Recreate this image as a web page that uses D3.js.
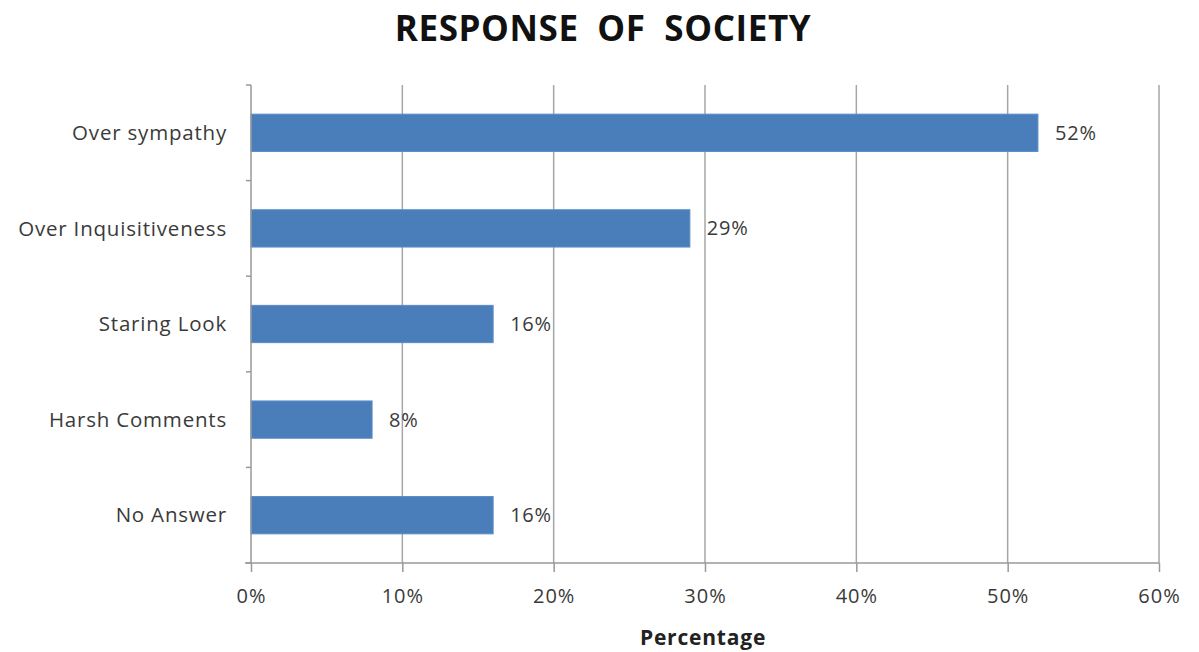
<!DOCTYPE html>
<html>
<head>
<meta charset="utf-8">
<script src="https://cdn.jsdelivr.net/npm/d3@7"></script>
<style>
  body { margin: 0; background: #fff; }
  text { font-family: "Open Sans", "Noto Sans", sans-serif; fill: #3a3a3a; }
</style>
</head>
<body>
<div id="chart"></div>
<script>
var categories = ["Over sympathy", "Over Inquisitiveness", "Staring Look", "Harsh Comments", "No Answer"];
var values = [52, 29, 16, 8, 16];
var xTicks = [0, 10, 20, 30, 40, 50, 60];

var margin = {top: 85, right: 40, bottom: 89, left: 251},
    width = 1199 - margin.left - margin.right,
    height = 652 - margin.top - margin.bottom;

var svg = d3.select("#chart")
  .append("svg")
    .attr("width", 1199)
    .attr("height", 652)
  .append("g")
    .attr("transform", "translate(" + margin.left + "," + margin.top + ")");

var x = d3.scaleLinear()
  .domain([0, 60])
  .range([0, 908]);

var y = d3.scaleBand()
  .domain(categories)
  .range([0, 478])
  .paddingInner(0.61)
  .paddingOuter(0.305);

// vertical gridlines
svg.append("g")
  .selectAll("line")
  .data(xTicks.slice(1))
  .enter()
  .append("line")
    .attr("x1", function(d) { return x(d); })
    .attr("x2", function(d) { return x(d); })
    .attr("y1", 0)
    .attr("y2", 478)
    .attr("stroke", "#a6a6a6")
    .attr("stroke-width", 1.5);

// bars
svg.append("g")
  .selectAll("rect")
  .data(values)
  .enter()
  .append("rect")
    .attr("x", 0)
    .attr("y", function(d, i) { return y(categories[i]); })
    .attr("width", function(d) { return x(d); })
    .attr("height", y.bandwidth())
    .attr("fill", "#4a7ebb")
    .attr("stroke", "#5b8cc6")
    .attr("stroke-width", 1);

// value labels
svg.append("g")
  .selectAll("text")
  .data(values)
  .enter()
  .append("text")
    .attr("x", function(d) { return x(d) + 17; })
    .attr("y", function(d, i) { return y(categories[i]) + y.bandwidth() / 2; })
    .attr("dy", "0.35em")
    .style("font-size", "20px")
    .style("letter-spacing", "0.8px")
    .text(function(d) { return d + "%"; });

// x axis
var xAxis = svg.append("g")
  .attr("transform", "translate(0,478)")
  .call(d3.axisBottom(x)
    .tickValues(xTicks)
    .tickSize(9)
    .tickPadding(17)
    .tickFormat(function(d) { return d + "%"; }));
xAxis.select(".domain").attr("d", "M-6,0H908").attr("stroke", "#999").attr("stroke-width", 1.5);
xAxis.selectAll(".tick line").attr("stroke", "#999").attr("stroke-width", 1.5);
xAxis.selectAll(".tick text")
  .style("font-size", "20px")
  .style("letter-spacing", "1px")
  .style("font-family", "'Open Sans', sans-serif")
  .attr("fill", "#3a3a3a");

// y axis with separators between categories
var yAxis = svg.append("g");
yAxis.append("line")
  .attr("x1", 0).attr("x2", 0)
  .attr("y1", 0).attr("y2", 478)
  .attr("stroke", "#999")
  .attr("stroke-width", 1.5);
yAxis.selectAll(".sep")
  .data(d3.range(categories.length + 1))
  .enter()
  .append("line")
    .attr("class", "sep")
    .attr("x1", -5).attr("x2", 0)
    .attr("y1", function(i) { return i * y.step(); })
    .attr("y2", function(i) { return i * y.step(); })
    .attr("stroke", "#999")
    .attr("stroke-width", 1.5);
yAxis.selectAll(".cat")
  .data(categories)
  .enter()
  .append("text")
    .attr("class", "cat")
    .attr("x", -24)
    .attr("y", function(d) { return y(d) + y.bandwidth() / 2; })
    .attr("dy", "0.35em")
    .attr("text-anchor", "end")
    .style("font-size", "20.5px")
    .style("letter-spacing", "0.8px")
    .text(function(d) { return d; });

// titles
svg.append("text")
  .attr("x", 603 - margin.left)
  .attr("y", 41 - margin.top)
  .attr("text-anchor", "middle")
  .style("font-size", "35px")
  .style("font-weight", "bold")
  .style("letter-spacing", "0.6px")
  .style("word-spacing", "9px")
  .style("fill", "#111")
  .text("RESPONSE OF SOCIETY");

svg.append("text")
  .attr("x", 703 - margin.left)
  .attr("y", 645 - margin.top)
  .attr("text-anchor", "middle")
  .style("font-size", "21px")
  .style("font-weight", "bold")
  .style("letter-spacing", "0.8px")
  .style("fill", "#222")
  .text("Percentage");
</script>
</body>
</html>
